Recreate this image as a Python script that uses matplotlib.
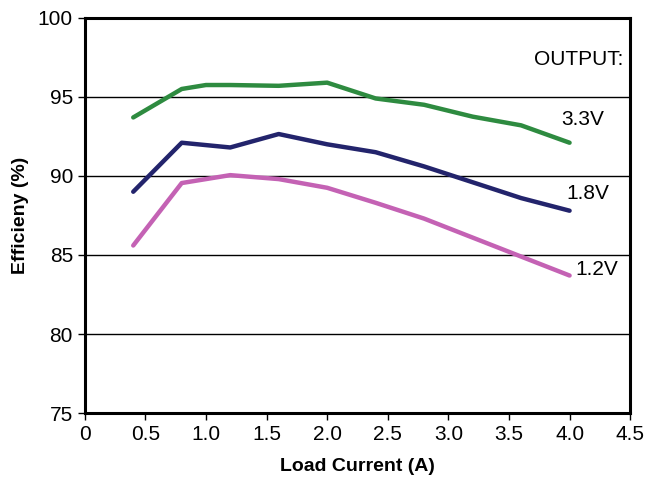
import matplotlib
matplotlib.use("Agg")
import matplotlib.pyplot as plt

plt.rcParams['font.family'] = ['Liberation Sans', 'DejaVu Sans']

# Load current (A)
current = [0.4, 0.8, 1.0, 1.2, 1.6, 2.0, 2.4, 2.8, 3.2, 3.6, 4.0]
eff_33 = [93.7, 95.5, 95.75, 95.75, 95.7, 95.9, 94.9, 94.5, 93.75, 93.2, 92.1]

current_b = [0.4, 0.8, 1.2, 1.6, 2.0, 2.4, 2.8, 3.2, 3.6, 4.0]
eff_18 = [89.0, 92.1, 91.8, 92.65, 92.0, 91.5, 90.6, 89.6, 88.6, 87.8]
eff_12 = [85.6, 89.55, 90.05, 89.8, 89.25, 88.3, 87.3, 86.1, 84.9, 83.7]

xticks = [0, 0.5, 1.0, 1.5, 2.0, 2.5, 3.0, 3.5, 4.0, 4.5]
xtick_labels = ['0', '0.5', '1.0', '1.5', '2.0', '2.5', '3.0', '3.5', '4.0', '4.5']
yticks = [75, 80, 85, 90, 95, 100]

fig = plt.figure(figsize=(6.47, 4.82), dpi=100)
ax = fig.add_axes([0.131, 0.143, 0.843, 0.820])

for y in [80, 85, 90, 95]:
    ax.axhline(y, color='black', lw=1.0, zorder=1)

ax.plot(current, eff_33, color='#2e8b40', lw=3.2, solid_capstyle='round', zorder=3)
ax.plot(current_b, eff_18, color='#23246c', lw=3.2, solid_capstyle='round', zorder=3)
ax.plot(current_b, eff_12, color='#c462b4', lw=3.2, solid_capstyle='round', zorder=3)

ax.set_xlim(0, 4.5)
ax.set_ylim(75, 100)
ax.set_xticks(xticks)
ax.set_xticklabels(xtick_labels)
ax.set_yticks(yticks)
ax.tick_params(direction='out', length=5, width=1, labelsize=15, colors='black')

for s in ax.spines.values():
    s.set_linewidth(2.2)

ax.set_xlabel('Load Current (A)', fontsize=14, fontweight='bold', labelpad=10)
ax.set_ylabel('Efficieny (%)', fontsize=14, fontweight='bold', labelpad=6)

ax.text(4.44, 97.35, 'OUTPUT:', fontsize=15, ha='right', va='center')
ax.text(3.93, 93.55, '3.3V', fontsize=15, ha='left', va='center')
ax.text(3.97, 88.9, '1.8V', fontsize=15, ha='left', va='center')
ax.text(4.05, 84.05, '1.2V', fontsize=15, ha='left', va='center')

fig.savefig('out.png', dpi=100)
